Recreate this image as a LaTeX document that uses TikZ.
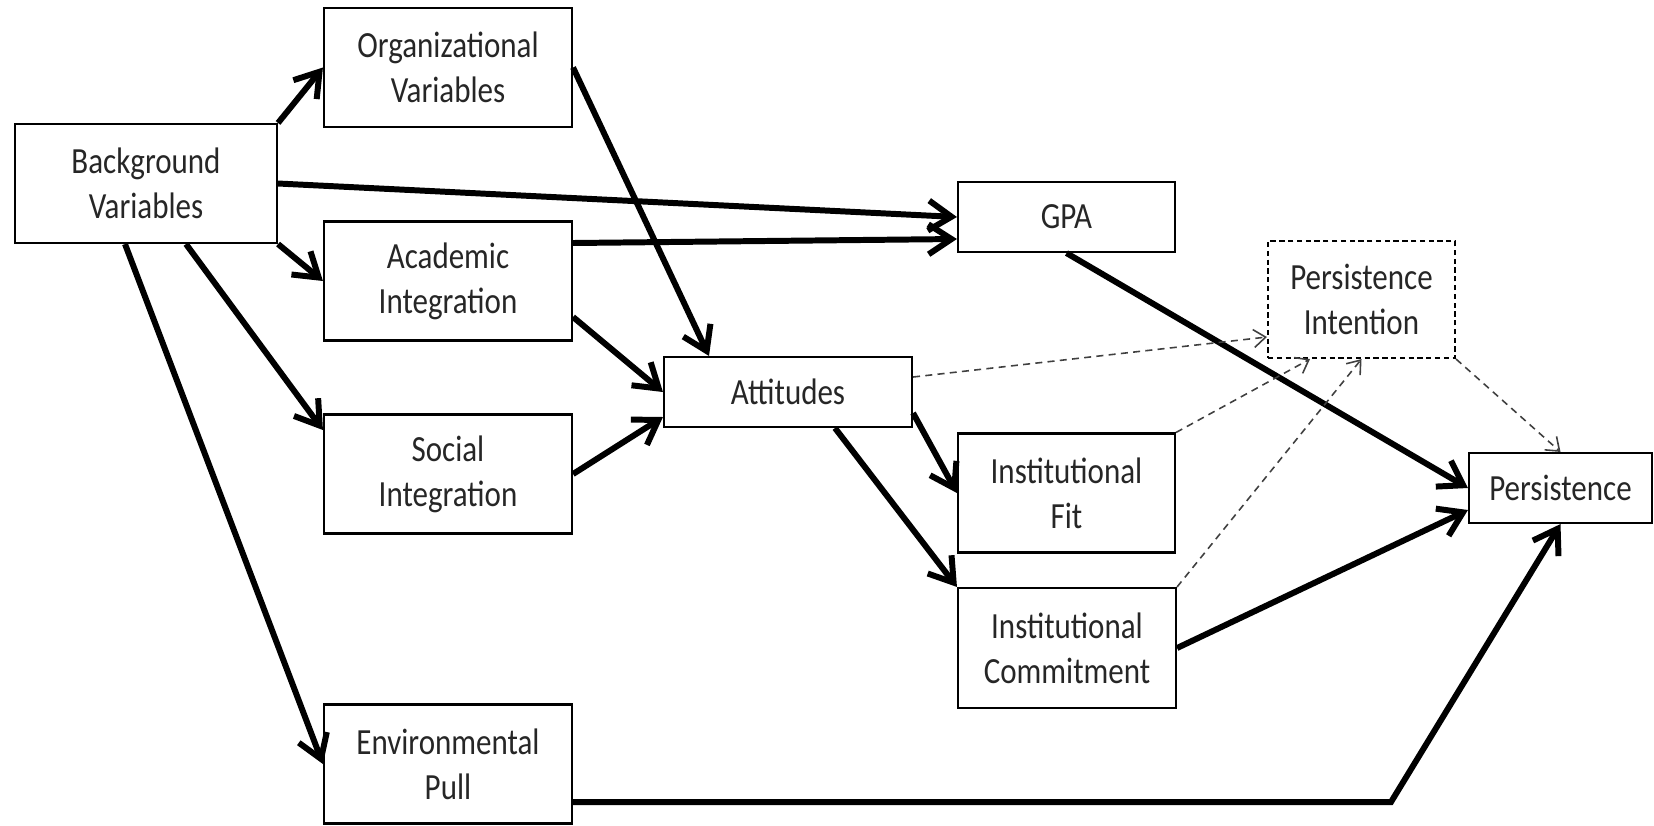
\documentclass[tikz,border=0pt]{standalone}
\usepackage{fontspec}
\setmainfont{Carlito}[FakeStretch=0.84]
\usepackage{tikz}
\usetikzlibrary{positioning}
\usetikzlibrary{arrows.meta}
\usetikzlibrary{calc}

\begin{document}
\begin{tikzpicture}[
  box/.style={draw,rectangle,line width=0.6pt,align=center,inner sep=0,text=black!85,font=\fontsize{10.5}{12.8}\selectfont},
  link/.style={->,>={Straight Barb[length=2.3mm,width=3mm]},line width=1.7pt},
  weak/.style={->,>={Straight Barb[length=1.2mm,width=1.8mm]},dash pattern=on 2pt off 1.5pt,line width=0.45pt,black!75}
]
\useasboundingbox (0,0) rectangle (16.54,-8.25);

%left column
\node (bg) at (1.46,-1.835) [box,minimum width=2.62cm,minimum height=1.19cm] {Background\\Variables};
\node (org) at (4.48,-0.675) [box,minimum width=2.48cm,minimum height=1.19cm] {Organizational\\Variables};
\node (acad) at (4.48,-2.81) [box,minimum width=2.48cm,minimum height=1.19cm] {Academic\\Integration};
\node (soc) at (4.48,-4.74) [box,minimum width=2.48cm,minimum height=1.19cm] {Social\\Integration};
\node (env) at (4.48,-7.64) [box,minimum width=2.48cm,minimum height=1.19cm] {Environmental\\Pull};

%middle
\node (att) at (7.88,-3.92) [box,minimum width=2.48cm,minimum height=0.70cm] {Attitudes};
\node (gpa) at (10.665,-2.17) [box,minimum width=2.17cm,minimum height=0.70cm] {GPA};
\node (fit) at (10.665,-4.93) [box,minimum width=2.17cm,minimum height=1.19cm] {Institutional\\Fit};
\node (com) at (10.67,-6.48) [box,minimum width=2.18cm,minimum height=1.20cm] {Institutional\\Commitment};

%right
\node (pint) at (13.615,-2.995) [box,dash pattern=on 1.5pt off 1pt,minimum width=1.87cm,minimum height=1.17cm] {Persistence\\Intention};
\node (pers) at (15.605,-4.88) [box,minimum width=1.83cm,minimum height=0.70cm] {Persistence};
\coordinate (bend) at (13.91,-8.02);

%background paths
\draw [link] (bg.north east) -- (org.west);
\draw [link] (bg.south east) -- (acad.west);
\draw [link] (bg.east) -- (gpa.west);
\draw [link] ([xshift=0.4cm]bg.south) -- ([yshift=0.44cm]soc.west);
\draw [link] ([xshift=-0.21cm]bg.south) -- (env.west);

%into attitudes and gpa
\draw [link] ([yshift=0.38cm]acad.east) -- ([yshift=-0.22cm]gpa.west);
\draw [link] (org.east) -- ([xshift=-0.79cm]att.north);
\draw [link] ([yshift=-0.36cm]acad.east) -- (att.west);
\draw [link] (soc.east) -- ([yshift=-0.25cm]att.west);

%out of attitudes
\draw [link] ([yshift=-0.21cm]att.east) -- (fit.west);
\draw [link] ([xshift=0.47cm]att.south) -- (com.north west);

%into persistence
\draw [link] (gpa.south) -- (pers.west);
\draw [link] (com.east) -- ([yshift=-0.22cm]pers.west);
\draw [link] ([yshift=-0.38cm]env.east) -- (bend) -- (pers.south);

%intention (dashed)
\draw [weak] ([yshift=0.15cm]att.east) -- ([yshift=-0.375cm]pint.west);
\draw [weak] (fit.north east) -- ([xshift=-0.515cm]pint.south);
\draw [weak] (com.north east) -- (pint.south);
\draw [weak] (pint.south east) -- (pers.north);

\end{tikzpicture}
\end{document}
